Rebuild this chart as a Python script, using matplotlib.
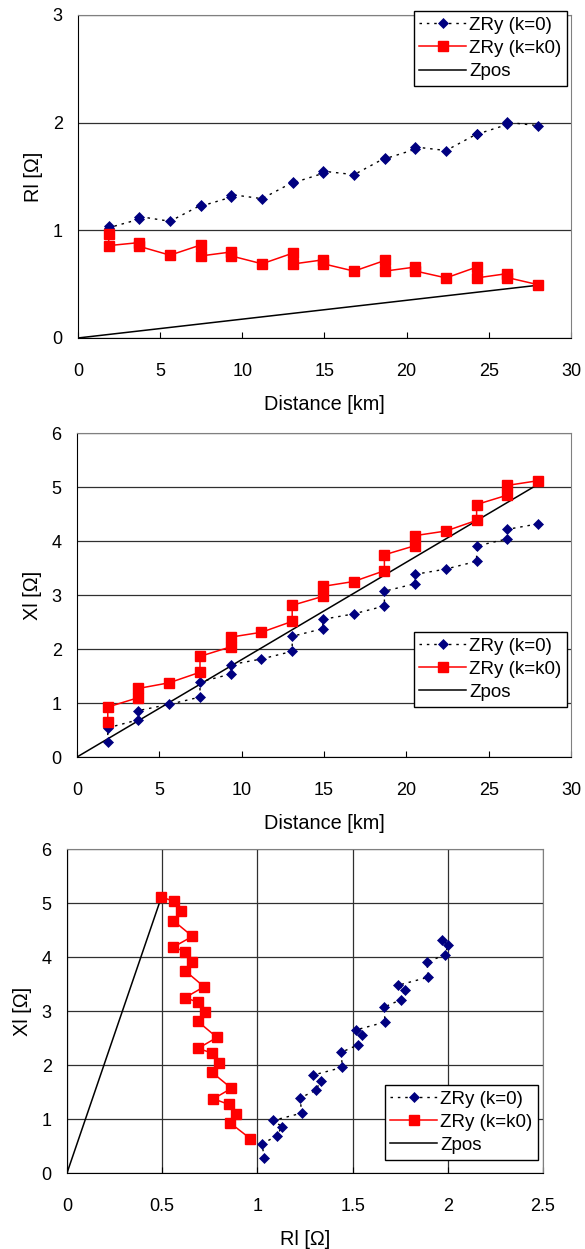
import matplotlib
matplotlib.use("Agg")
import matplotlib.pyplot as plt
from matplotlib.ticker import MultipleLocator, StrMethodFormatter

plt.rcParams['font.family'] = ['Liberation Sans', 'DejaVu Sans']
plt.rcParams['font.size'] = 13

# distance of each measured point [km]
dist = [1.87, 1.87, 3.73, 3.73, 5.6, 7.47, 7.47, 9.33, 9.33, 11.2,
        13.07, 13.07, 14.93, 14.93, 16.8, 18.67, 18.67, 20.53, 20.53, 22.4,
        24.27, 24.27, 26.13, 26.13, 28.0]

# ZRy (k=0)
r_k0 = [1.037, 1.024, 1.103, 1.128, 1.084, 1.233, 1.224, 1.308, 1.332, 1.294,
        1.446, 1.44, 1.53, 1.549, 1.517, 1.671, 1.664, 1.753, 1.774, 1.741,
        1.895, 1.892, 1.983, 2.003, 1.972]
x_k0 = [0.27, 0.54, 0.69, 0.86, 0.975, 1.11, 1.39, 1.535, 1.71, 1.815,
        1.957, 2.235, 2.377, 2.55, 2.65, 2.796, 3.07, 3.21, 3.383, 3.48,
        3.625, 3.907, 4.04, 4.216, 4.318]

# ZRy (k=k0)
r_kk0 = [0.962, 0.858, 0.886, 0.851, 0.769, 0.864, 0.762, 0.799, 0.762, 0.689,
         0.788, 0.687, 0.726, 0.689, 0.621, 0.72, 0.621, 0.659, 0.622, 0.558,
         0.659, 0.558, 0.598, 0.561, 0.495]
x_kk0 = [0.64, 0.925, 1.1, 1.27, 1.375, 1.57, 1.864, 2.04, 2.22, 2.31,
         2.512, 2.809, 2.975, 3.16, 3.25, 3.45, 3.745, 3.914, 4.1, 4.185,
         4.383, 4.676, 4.85, 5.03, 5.117]

# Zpos
dist_pos = [0, 28]
r_pos = [0, 0.49]
x_pos = [0, 5.05]

labels = ['ZRy (k=0)', 'ZRy (k=k0)', 'Zpos']

NAVY = '#000080'
RED = '#ff0000'
LABEL_FS = 14.3


def draw(ax, xa, xb, xc, ya, yb, yc):
    ax.plot(xc, yc, color='black', lw=1.1, zorder=2)
    ax.plot(xa, ya, color='black', lw=1.0, ls=(0, (1.8, 3.5)),
            marker='D', ms=5, mfc=NAVY, mec=NAVY, mew=0.5, zorder=3)
    ax.plot(xb, yb, color=RED, lw=1.1, marker='s', ms=6.5,
            mfc=RED, mec=RED, zorder=3)


def style(ax, anchor):
    for s in ['top', 'right']:
        ax.spines[s].set_color('#808080')
    for s in ['left', 'bottom']:
        ax.spines[s].set_color('black')
    ax.tick_params(direction='in', length=4.5, top=False, right=False)
    ax.tick_params(axis='x', pad=18)
    ax.tick_params(axis='y', pad=11, length=0)
    ax.set_axisbelow(True)
    h = ax.get_lines()
    leg = ax.legend([h[1], h[2], h[0]], labels, loc='upper right',
                    bbox_to_anchor=anchor, borderaxespad=0, numpoints=1,
                    fancybox=False, framealpha=1, edgecolor='black',
                    fontsize=13.5, handlelength=2.5, handletextpad=0.15,
                    labelspacing=0.32, borderpad=0.3)
    leg.get_frame().set_linewidth(1.0)
    leg.set_zorder(5)


fig = plt.figure(figsize=(5.85, 12.49), dpi=100)

# top: R vs distance
ax1 = fig.add_axes([0.1333, 0.7294, 0.8427, 0.2586])
draw(ax1, dist, dist, dist_pos, r_k0, r_kk0, r_pos)
ax1.set_xlim(0, 30)
ax1.set_ylim(0, 3)
ax1.xaxis.set_major_locator(MultipleLocator(5))
ax1.yaxis.set_major_locator(MultipleLocator(1))
ax1.grid(axis='y', color='#303030', lw=0.9)
ax1.set_xlabel('Distance [km]', fontsize=LABEL_FS, labelpad=11)
ax1.set_ylabel('Rl [Ω]', fontsize=LABEL_FS, labelpad=7)
style(ax1, (0.992, 1.012))

# middle: X vs distance
ax2 = fig.add_axes([0.1316, 0.3939, 0.8444, 0.2594])
draw(ax2, dist, dist, dist_pos, x_k0, x_kk0, x_pos)
ax2.set_xlim(0, 30)
ax2.set_ylim(0, 6)
ax2.xaxis.set_major_locator(MultipleLocator(5))
ax2.yaxis.set_major_locator(MultipleLocator(1))
ax2.grid(axis='y', color='#303030', lw=0.9)
ax2.set_xlabel('Distance [km]', fontsize=LABEL_FS, labelpad=11)
ax2.set_ylabel('Xl [Ω]', fontsize=LABEL_FS, labelpad=7)
style(ax2, (0.992, 0.386))

# bottom: X vs R
ax3 = fig.add_axes([0.1145, 0.0608, 0.8137, 0.2594])
draw(ax3, r_k0, r_kk0, r_pos, x_k0, x_kk0, x_pos)
ax3.set_xlim(0, 2.5)
ax3.set_ylim(0, 6)
ax3.xaxis.set_major_locator(MultipleLocator(0.5))
ax3.yaxis.set_major_locator(MultipleLocator(1))
ax3.xaxis.set_major_formatter(StrMethodFormatter('{x:g}'))
ax3.grid(True, color='#303030', lw=0.9)
ax3.set_xlabel('Rl [Ω]', fontsize=LABEL_FS, labelpad=11)
ax3.set_ylabel('Xl [Ω]', fontsize=LABEL_FS, labelpad=7)
style(ax3, (0.989, 0.272))

fig.savefig('out.png', dpi=100)
